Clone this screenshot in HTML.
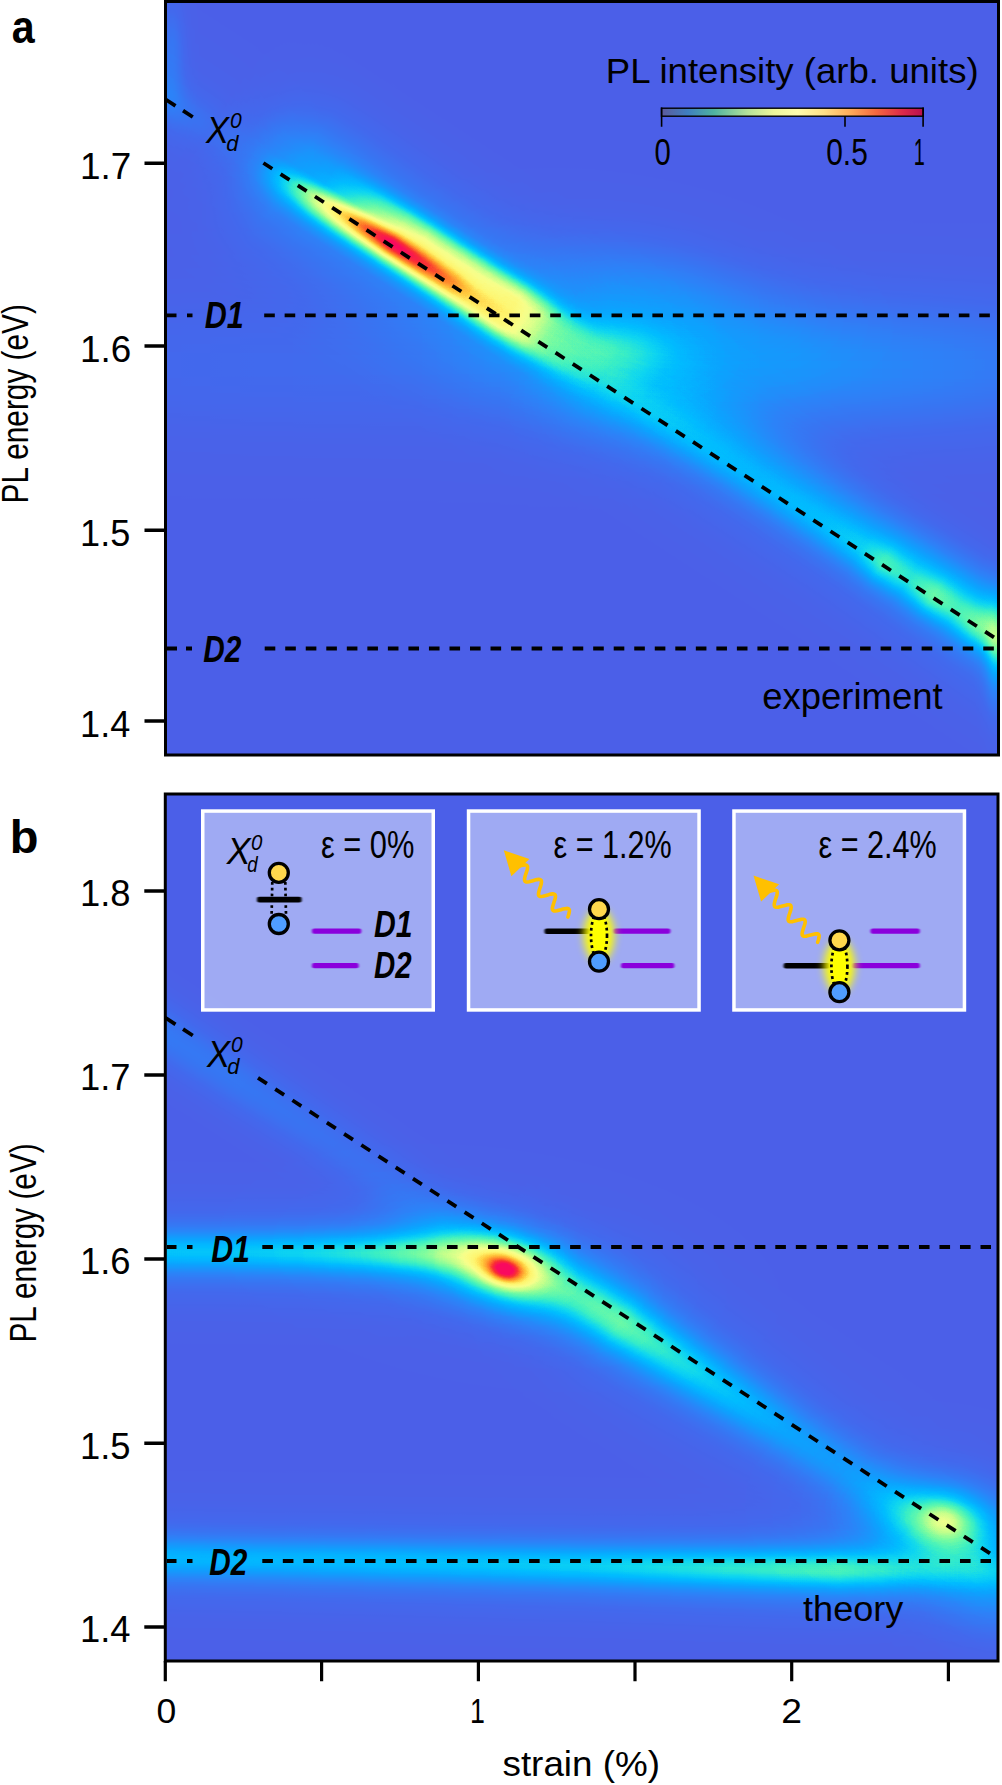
<!DOCTYPE html>
<html><head><meta charset="utf-8"><title>PL intensity vs strain</title>
<style>html,body{margin:0;padding:0;background:#fff}body{width:1002px;height:1785px;overflow:hidden}</style></head>
<body>
<svg width="1002" height="1785" viewBox="0 0 1002 1785" style="display:block;font-family:'Liberation Sans', Arial, sans-serif">
<defs>
<filter id="cm" x="0" y="0" width="100%" height="100%" filterUnits="objectBoundingBox" color-interpolation-filters="sRGB">
<feComponentTransfer><feFuncR type="table" tableValues="0.298 0.289 0.280 0.271 0.262 0.250 0.236 0.221 0.207 0.192 0.178 0.156 0.135 0.113 0.091 0.069 0.047 0.033 0.022 0.012 0.002 0.016 0.034 0.053 0.091 0.138 0.184 0.231 0.284 0.337 0.391 0.444 0.504 0.571 0.637 0.704 0.769 0.816 0.863 0.910 0.957 0.977 0.983 0.989 0.995 1.000 1.000 1.000 1.000 1.000 1.000 1.000 1.000 1.000 1.000 0.996 0.992 0.987 0.983 0.980 0.980 0.980 0.980 0.980"/><feFuncG type="table" tableValues="0.376 0.385 0.394 0.403 0.412 0.425 0.442 0.459 0.475 0.492 0.508 0.530 0.552 0.573 0.595 0.617 0.639 0.663 0.689 0.715 0.741 0.771 0.802 0.833 0.861 0.887 0.913 0.939 0.951 0.962 0.972 0.983 0.990 0.992 0.995 0.998 1.000 1.000 1.000 1.000 1.000 0.994 0.985 0.976 0.967 0.950 0.910 0.870 0.830 0.790 0.737 0.683 0.629 0.574 0.520 0.451 0.380 0.309 0.238 0.181 0.146 0.110 0.075 0.039"/><feFuncB type="table" tableValues="0.910 0.915 0.920 0.926 0.931 0.937 0.944 0.951 0.958 0.965 0.972 0.977 0.981 0.985 0.990 0.994 0.998 1.000 1.000 1.000 1.000 0.984 0.966 0.947 0.909 0.862 0.816 0.769 0.736 0.705 0.674 0.643 0.619 0.601 0.583 0.565 0.549 0.549 0.549 0.549 0.549 0.531 0.504 0.478 0.451 0.419 0.375 0.330 0.286 0.242 0.222 0.206 0.191 0.175 0.160 0.164 0.173 0.182 0.191 0.212 0.253 0.293 0.333 0.373"/></feComponentTransfer>
</filter>
<clipPath id="cpA"><rect x="165.5" y="0" width="833" height="755"/></clipPath>
<clipPath id="cpB"><rect x="165.5" y="794" width="832.5" height="867"/></clipPath>
<linearGradient id="cbar" x1="0" x2="1" y1="0" y2="0">
<stop offset="0" stop-color="#5d5a9c"/><stop offset="0.1" stop-color="#3f7fc0"/><stop offset="0.2" stop-color="#4fb3a0"/>
<stop offset="0.33" stop-color="#b5e29a"/><stop offset="0.43" stop-color="#eef79c"/><stop offset="0.52" stop-color="#fffcae"/>
<stop offset="0.62" stop-color="#ffe088"/><stop offset="0.72" stop-color="#ffac5a"/><stop offset="0.82" stop-color="#f4683f"/>
<stop offset="0.92" stop-color="#dc2a4a"/><stop offset="1" stop-color="#b8104e"/>
</linearGradient>
<radialGradient id="gg" cx="0.5" cy="0.5" r="0.5"><stop offset="0.000" stop-color="#fff" stop-opacity="1.0000"/><stop offset="0.083" stop-color="#fff" stop-opacity="0.9692"/><stop offset="0.167" stop-color="#fff" stop-opacity="0.8825"/><stop offset="0.250" stop-color="#fff" stop-opacity="0.7548"/><stop offset="0.333" stop-color="#fff" stop-opacity="0.6065"/><stop offset="0.417" stop-color="#fff" stop-opacity="0.4578"/><stop offset="0.500" stop-color="#fff" stop-opacity="0.3247"/><stop offset="0.583" stop-color="#fff" stop-opacity="0.2163"/><stop offset="0.667" stop-color="#fff" stop-opacity="0.1353"/><stop offset="0.750" stop-color="#fff" stop-opacity="0.0796"/><stop offset="0.833" stop-color="#fff" stop-opacity="0.0439"/><stop offset="0.917" stop-color="#fff" stop-opacity="0.0228"/><stop offset="1.000" stop-color="#fff" stop-opacity="0.0000"/></radialGradient>
<radialGradient id="gl" cx="0.5" cy="0.5" r="0.5"><stop offset="0.000" stop-color="#fff" stop-opacity="1.0000"/><stop offset="0.062" stop-color="#fff" stop-opacity="0.9075"/><stop offset="0.125" stop-color="#fff" stop-opacity="0.7079"/><stop offset="0.188" stop-color="#fff" stop-opacity="0.5135"/><stop offset="0.250" stop-color="#fff" stop-opacity="0.3659"/><stop offset="0.312" stop-color="#fff" stop-opacity="0.2622"/><stop offset="0.375" stop-color="#fff" stop-opacity="0.1903"/><stop offset="0.438" stop-color="#fff" stop-opacity="0.1398"/><stop offset="0.500" stop-color="#fff" stop-opacity="0.1034"/><stop offset="0.562" stop-color="#fff" stop-opacity="0.0767"/><stop offset="0.625" stop-color="#fff" stop-opacity="0.0566"/><stop offset="0.688" stop-color="#fff" stop-opacity="0.0411"/><stop offset="0.750" stop-color="#fff" stop-opacity="0.0290"/><stop offset="0.812" stop-color="#fff" stop-opacity="0.0194"/><stop offset="0.875" stop-color="#fff" stop-opacity="0.0116"/><stop offset="0.938" stop-color="#fff" stop-opacity="0.0053"/><stop offset="1.000" stop-color="#fff" stop-opacity="0.0000"/></radialGradient>
<linearGradient id="gv" x1="0" y1="0" x2="0" y2="1"><stop offset="0.000" stop-color="#fff" stop-opacity="0.0000"/><stop offset="0.042" stop-color="#fff" stop-opacity="0.0228"/><stop offset="0.083" stop-color="#fff" stop-opacity="0.0439"/><stop offset="0.125" stop-color="#fff" stop-opacity="0.0796"/><stop offset="0.167" stop-color="#fff" stop-opacity="0.1353"/><stop offset="0.208" stop-color="#fff" stop-opacity="0.2163"/><stop offset="0.250" stop-color="#fff" stop-opacity="0.3247"/><stop offset="0.292" stop-color="#fff" stop-opacity="0.4578"/><stop offset="0.333" stop-color="#fff" stop-opacity="0.6065"/><stop offset="0.375" stop-color="#fff" stop-opacity="0.7548"/><stop offset="0.417" stop-color="#fff" stop-opacity="0.8825"/><stop offset="0.458" stop-color="#fff" stop-opacity="0.9692"/><stop offset="0.500" stop-color="#fff" stop-opacity="1.0000"/><stop offset="0.542" stop-color="#fff" stop-opacity="0.9692"/><stop offset="0.583" stop-color="#fff" stop-opacity="0.8825"/><stop offset="0.625" stop-color="#fff" stop-opacity="0.7548"/><stop offset="0.667" stop-color="#fff" stop-opacity="0.6065"/><stop offset="0.708" stop-color="#fff" stop-opacity="0.4578"/><stop offset="0.750" stop-color="#fff" stop-opacity="0.3247"/><stop offset="0.792" stop-color="#fff" stop-opacity="0.2163"/><stop offset="0.833" stop-color="#fff" stop-opacity="0.1353"/><stop offset="0.875" stop-color="#fff" stop-opacity="0.0796"/><stop offset="0.917" stop-color="#fff" stop-opacity="0.0439"/><stop offset="0.958" stop-color="#fff" stop-opacity="0.0228"/><stop offset="1.000" stop-color="#fff" stop-opacity="0.0000"/></linearGradient>
<filter id="bl2" x="-50%" y="-50%" width="200%" height="200%" color-interpolation-filters="sRGB"><feGaussianBlur stdDeviation="2"/></filter>
<filter id="bl4" x="-50%" y="-50%" width="200%" height="200%" color-interpolation-filters="sRGB"><feGaussianBlur stdDeviation="4"/></filter>
<filter id="bl6" x="-50%" y="-50%" width="200%" height="200%" color-interpolation-filters="sRGB"><feGaussianBlur stdDeviation="6"/></filter>
<filter id="bl10" x="-50%" y="-50%" width="200%" height="200%" color-interpolation-filters="sRGB"><feGaussianBlur stdDeviation="10"/></filter>
<filter id="bl16" x="-50%" y="-50%" width="200%" height="200%" color-interpolation-filters="sRGB"><feGaussianBlur stdDeviation="16"/></filter>
<filter id="bl25" x="-50%" y="-50%" width="200%" height="200%" color-interpolation-filters="sRGB"><feGaussianBlur stdDeviation="25"/></filter>
<linearGradient id="ru1" gradientUnits="userSpaceOnUse" x1="100.0" y1="0" x2="1100.0" y2="0"><stop offset="0.0000" stop-color="#fff" stop-opacity="0.0500"/><stop offset="0.1500" stop-color="#fff" stop-opacity="0.0700"/><stop offset="0.3200" stop-color="#fff" stop-opacity="0.0800"/><stop offset="0.4000" stop-color="#fff" stop-opacity="0.1000"/><stop offset="0.4600" stop-color="#fff" stop-opacity="0.1500"/><stop offset="0.5120" stop-color="#fff" stop-opacity="0.2000"/><stop offset="0.5900" stop-color="#fff" stop-opacity="0.2200"/><stop offset="0.7000" stop-color="#fff" stop-opacity="0.2100"/><stop offset="0.8300" stop-color="#fff" stop-opacity="0.1600"/><stop offset="0.9100" stop-color="#fff" stop-opacity="0.1300"/><stop offset="1.0000" stop-color="#fff" stop-opacity="0.1200"/></linearGradient>
<mask id="rm1" maskUnits="userSpaceOnUse" x="100.0" y="-150.0" width="1000.0" height="300.0"><rect x="100.0" y="-150.0" width="1000.0" height="300.0" fill="url(#gv)"/></mask>
<linearGradient id="ru2" gradientUnits="userSpaceOnUse" x1="-149.1" y1="0" x2="1114.9" y2="0"><stop offset="0.0000" stop-color="#fff" stop-opacity="0.0400"/><stop offset="0.1509" stop-color="#fff" stop-opacity="0.0400"/><stop offset="0.2094" stop-color="#fff" stop-opacity="0.0200"/><stop offset="0.2453" stop-color="#fff" stop-opacity="0.0000"/><stop offset="0.4717" stop-color="#fff" stop-opacity="0.0000"/><stop offset="0.5283" stop-color="#fff" stop-opacity="0.0800"/><stop offset="0.6226" stop-color="#fff" stop-opacity="0.1200"/><stop offset="0.7642" stop-color="#fff" stop-opacity="0.1200"/><stop offset="0.9057" stop-color="#fff" stop-opacity="0.1600"/><stop offset="1.0000" stop-color="#fff" stop-opacity="0.1600"/></linearGradient>
<mask id="rm2" maskUnits="userSpaceOnUse" x="-149.1" y="-114.0" width="1264.0" height="228.0"><rect x="-149.1" y="-114.0" width="1264.0" height="228.0" fill="url(#gv)"/></mask>
<linearGradient id="ru3" gradientUnits="userSpaceOnUse" x1="566.4" y1="0" x2="1114.9" y2="0"><stop offset="0.0000" stop-color="#fff" stop-opacity="0.0000"/><stop offset="0.1739" stop-color="#fff" stop-opacity="0.0700"/><stop offset="0.3478" stop-color="#fff" stop-opacity="0.1100"/><stop offset="0.5652" stop-color="#fff" stop-opacity="0.1400"/><stop offset="0.7826" stop-color="#fff" stop-opacity="0.1500"/><stop offset="1.0000" stop-color="#fff" stop-opacity="0.1500"/></linearGradient>
<mask id="rm3" maskUnits="userSpaceOnUse" x="566.4" y="-66.0" width="548.5" height="132.0"><rect x="566.4" y="-66.0" width="548.5" height="132.0" fill="url(#gv)"/></mask>
<linearGradient id="ru4" gradientUnits="userSpaceOnUse" x1="149.1" y1="0" x2="518.7" y2="0"><stop offset="0.0000" stop-color="#fff" stop-opacity="0.0000"/><stop offset="0.0839" stop-color="#fff" stop-opacity="0.0400"/><stop offset="0.1613" stop-color="#fff" stop-opacity="0.1400"/><stop offset="0.2355" stop-color="#fff" stop-opacity="0.2600"/><stop offset="0.3194" stop-color="#fff" stop-opacity="0.3600"/><stop offset="0.3871" stop-color="#fff" stop-opacity="0.4100"/><stop offset="0.5161" stop-color="#fff" stop-opacity="0.4200"/><stop offset="0.6935" stop-color="#fff" stop-opacity="0.4000"/><stop offset="0.7677" stop-color="#fff" stop-opacity="0.3100"/><stop offset="0.8387" stop-color="#fff" stop-opacity="0.1800"/><stop offset="0.9194" stop-color="#fff" stop-opacity="0.0700"/><stop offset="1.0000" stop-color="#fff" stop-opacity="0.0000"/></linearGradient>
<linearGradient id="rv4" gradientUnits="userSpaceOnUse" x1="0" y1="-60.0" x2="0" y2="0.0"><stop offset="0.0000" stop-color="#fff" stop-opacity="0.0000"/><stop offset="0.1333" stop-color="#fff" stop-opacity="0.0600"/><stop offset="0.2333" stop-color="#fff" stop-opacity="0.2000"/><stop offset="0.3333" stop-color="#fff" stop-opacity="0.4500"/><stop offset="0.4167" stop-color="#fff" stop-opacity="0.7000"/><stop offset="0.5000" stop-color="#fff" stop-opacity="0.8800"/><stop offset="0.6000" stop-color="#fff" stop-opacity="1.0000"/><stop offset="0.7333" stop-color="#fff" stop-opacity="1.0000"/><stop offset="0.8000" stop-color="#fff" stop-opacity="0.8000"/><stop offset="0.8667" stop-color="#fff" stop-opacity="0.5000"/><stop offset="0.9333" stop-color="#fff" stop-opacity="0.2000"/><stop offset="1.0000" stop-color="#fff" stop-opacity="0.0000"/></linearGradient>
<mask id="rm4" maskUnits="userSpaceOnUse" x="149.1" y="-60.0" width="369.6" height="60.0"><rect x="149.1" y="-60.0" width="369.6" height="60.0" fill="url(#rv4)"/></mask>
<linearGradient id="ru5" gradientUnits="userSpaceOnUse" x1="101.4" y1="0" x2="518.7" y2="0"><stop offset="0.0000" stop-color="#fff" stop-opacity="0.0000"/><stop offset="0.0343" stop-color="#fff" stop-opacity="0.0200"/><stop offset="0.1143" stop-color="#fff" stop-opacity="0.1500"/><stop offset="0.1886" stop-color="#fff" stop-opacity="0.3000"/><stop offset="0.2571" stop-color="#fff" stop-opacity="0.3800"/><stop offset="0.3229" stop-color="#fff" stop-opacity="0.4100"/><stop offset="0.3971" stop-color="#fff" stop-opacity="0.4200"/><stop offset="0.5714" stop-color="#fff" stop-opacity="0.4200"/><stop offset="0.7286" stop-color="#fff" stop-opacity="0.4000"/><stop offset="0.7943" stop-color="#fff" stop-opacity="0.3100"/><stop offset="0.8571" stop-color="#fff" stop-opacity="0.1800"/><stop offset="0.9286" stop-color="#fff" stop-opacity="0.0700"/><stop offset="1.0000" stop-color="#fff" stop-opacity="0.0000"/></linearGradient>
<linearGradient id="rv5" gradientUnits="userSpaceOnUse" x1="0" y1="-16.0" x2="0" y2="36.0"><stop offset="0.0000" stop-color="#fff" stop-opacity="0.0000"/><stop offset="0.0769" stop-color="#fff" stop-opacity="0.2000"/><stop offset="0.1538" stop-color="#fff" stop-opacity="0.5000"/><stop offset="0.2308" stop-color="#fff" stop-opacity="0.8000"/><stop offset="0.3077" stop-color="#fff" stop-opacity="1.0000"/><stop offset="0.4231" stop-color="#fff" stop-opacity="1.0000"/><stop offset="0.5000" stop-color="#fff" stop-opacity="0.9000"/><stop offset="0.5769" stop-color="#fff" stop-opacity="0.7200"/><stop offset="0.6538" stop-color="#fff" stop-opacity="0.5000"/><stop offset="0.7500" stop-color="#fff" stop-opacity="0.2800"/><stop offset="0.8462" stop-color="#fff" stop-opacity="0.1200"/><stop offset="1.0000" stop-color="#fff" stop-opacity="0.0000"/></linearGradient>
<mask id="rm5" maskUnits="userSpaceOnUse" x="101.4" y="-16.0" width="417.3" height="52.0"><rect x="101.4" y="-16.0" width="417.3" height="52.0" fill="url(#rv5)"/></mask>
<linearGradient id="ru6" gradientUnits="userSpaceOnUse" x1="-77.5" y1="0" x2="637.9" y2="0"><stop offset="0.0000" stop-color="#fff" stop-opacity="0.0000"/><stop offset="0.1833" stop-color="#fff" stop-opacity="0.0000"/><stop offset="0.2333" stop-color="#fff" stop-opacity="0.0600"/><stop offset="0.2700" stop-color="#fff" stop-opacity="0.1500"/><stop offset="0.3167" stop-color="#fff" stop-opacity="0.2400"/><stop offset="0.3667" stop-color="#fff" stop-opacity="0.2500"/><stop offset="0.5000" stop-color="#fff" stop-opacity="0.2200"/><stop offset="0.6000" stop-color="#fff" stop-opacity="0.1900"/><stop offset="0.7000" stop-color="#fff" stop-opacity="0.1600"/><stop offset="0.7667" stop-color="#fff" stop-opacity="0.1100"/><stop offset="0.8333" stop-color="#fff" stop-opacity="0.0700"/><stop offset="0.9000" stop-color="#fff" stop-opacity="0.0300"/><stop offset="1.0000" stop-color="#fff" stop-opacity="0.0000"/></linearGradient>
<linearGradient id="rv6" gradientUnits="userSpaceOnUse" x1="0" y1="-140.0" x2="0" y2="140.0"><stop offset="0.0000" stop-color="#fff" stop-opacity="0.0000"/><stop offset="0.0714" stop-color="#fff" stop-opacity="0.0400"/><stop offset="0.1429" stop-color="#fff" stop-opacity="0.1200"/><stop offset="0.2143" stop-color="#fff" stop-opacity="0.2800"/><stop offset="0.2679" stop-color="#fff" stop-opacity="0.4500"/><stop offset="0.3214" stop-color="#fff" stop-opacity="0.6600"/><stop offset="0.3750" stop-color="#fff" stop-opacity="0.8600"/><stop offset="0.4286" stop-color="#fff" stop-opacity="0.9700"/><stop offset="0.4714" stop-color="#fff" stop-opacity="1.0000"/><stop offset="0.5179" stop-color="#fff" stop-opacity="0.9700"/><stop offset="0.5536" stop-color="#fff" stop-opacity="0.8800"/><stop offset="0.5893" stop-color="#fff" stop-opacity="0.7600"/><stop offset="0.6250" stop-color="#fff" stop-opacity="0.6200"/><stop offset="0.6786" stop-color="#fff" stop-opacity="0.4500"/><stop offset="0.7500" stop-color="#fff" stop-opacity="0.2800"/><stop offset="0.8393" stop-color="#fff" stop-opacity="0.1300"/><stop offset="0.9286" stop-color="#fff" stop-opacity="0.0400"/><stop offset="1.0000" stop-color="#fff" stop-opacity="0.0000"/></linearGradient>
<mask id="rm6" maskUnits="userSpaceOnUse" x="-77.5" y="-140.0" width="715.4" height="280.0"><rect x="-77.5" y="-140.0" width="715.4" height="280.0" fill="url(#rv6)"/></mask>
<linearGradient id="ru7" gradientUnits="userSpaceOnUse" x1="149.1" y1="0" x2="423.3" y2="0"><stop offset="0.0000" stop-color="#fff" stop-opacity="0.0000"/><stop offset="0.1130" stop-color="#fff" stop-opacity="0.0500"/><stop offset="0.2174" stop-color="#fff" stop-opacity="0.1400"/><stop offset="0.3174" stop-color="#fff" stop-opacity="0.2600"/><stop offset="0.3913" stop-color="#fff" stop-opacity="0.3400"/><stop offset="0.4304" stop-color="#fff" stop-opacity="0.3800"/><stop offset="0.4783" stop-color="#fff" stop-opacity="0.3600"/><stop offset="0.5652" stop-color="#fff" stop-opacity="0.3100"/><stop offset="0.6739" stop-color="#fff" stop-opacity="0.2300"/><stop offset="0.7826" stop-color="#fff" stop-opacity="0.1200"/><stop offset="0.9130" stop-color="#fff" stop-opacity="0.0400"/><stop offset="1.0000" stop-color="#fff" stop-opacity="0.0000"/></linearGradient>
<mask id="rm7" maskUnits="userSpaceOnUse" x="149.1" y="-25.5" width="274.3" height="51.0"><rect x="149.1" y="-25.5" width="274.3" height="51.0" fill="url(#gv)"/></mask>
<linearGradient id="ru8" gradientUnits="userSpaceOnUse" x1="-149.1" y1="0" x2="1114.9" y2="0"><stop offset="0.0000" stop-color="#fff" stop-opacity="0.0500"/><stop offset="0.1179" stop-color="#fff" stop-opacity="0.0800"/><stop offset="0.1509" stop-color="#fff" stop-opacity="0.0600"/><stop offset="0.1887" stop-color="#fff" stop-opacity="0.0200"/><stop offset="0.2094" stop-color="#fff" stop-opacity="0.0000"/><stop offset="0.4717" stop-color="#fff" stop-opacity="0.0000"/><stop offset="0.5094" stop-color="#fff" stop-opacity="0.0300"/><stop offset="0.5472" stop-color="#fff" stop-opacity="0.0600"/><stop offset="0.5755" stop-color="#fff" stop-opacity="0.0900"/><stop offset="0.6226" stop-color="#fff" stop-opacity="0.1100"/><stop offset="0.7358" stop-color="#fff" stop-opacity="0.1300"/><stop offset="0.7736" stop-color="#fff" stop-opacity="0.1600"/><stop offset="0.7943" stop-color="#fff" stop-opacity="0.2400"/><stop offset="0.8189" stop-color="#fff" stop-opacity="0.1900"/><stop offset="0.8415" stop-color="#fff" stop-opacity="0.2600"/><stop offset="0.8632" stop-color="#fff" stop-opacity="0.2100"/><stop offset="0.8849" stop-color="#fff" stop-opacity="0.2600"/><stop offset="0.9057" stop-color="#fff" stop-opacity="0.2100"/><stop offset="1.0000" stop-color="#fff" stop-opacity="0.2000"/></linearGradient>
<mask id="rm8" maskUnits="userSpaceOnUse" x="-149.1" y="-45.0" width="1264.0" height="90.0"><rect x="-149.1" y="-45.0" width="1264.0" height="90.0" fill="url(#gv)"/></mask>
<linearGradient id="ru9" gradientUnits="userSpaceOnUse" x1="60.0" y1="0" x2="580.0" y2="0"><stop offset="0.0000" stop-color="#fff" stop-opacity="0.1980"/><stop offset="0.2019" stop-color="#fff" stop-opacity="0.1980"/><stop offset="0.3654" stop-color="#fff" stop-opacity="0.2040"/><stop offset="0.4808" stop-color="#fff" stop-opacity="0.2160"/><stop offset="0.5577" stop-color="#fff" stop-opacity="0.2280"/><stop offset="0.6538" stop-color="#fff" stop-opacity="0.2310"/><stop offset="0.7308" stop-color="#fff" stop-opacity="0.2040"/><stop offset="0.7885" stop-color="#fff" stop-opacity="0.1560"/><stop offset="0.8462" stop-color="#fff" stop-opacity="0.0960"/><stop offset="0.9231" stop-color="#fff" stop-opacity="0.0360"/><stop offset="1.0000" stop-color="#fff" stop-opacity="0.0000"/></linearGradient>
<mask id="rm9" maskUnits="userSpaceOnUse" x="60.0" y="-42.0" width="520.0" height="84.0"><rect x="60.0" y="-42.0" width="520.0" height="84.0" fill="url(#gv)"/></mask>
<linearGradient id="ru10" gradientUnits="userSpaceOnUse" x1="60.0" y1="0" x2="580.0" y2="0"><stop offset="0.0000" stop-color="#fff" stop-opacity="0.1320"/><stop offset="0.2019" stop-color="#fff" stop-opacity="0.1320"/><stop offset="0.3654" stop-color="#fff" stop-opacity="0.1360"/><stop offset="0.4808" stop-color="#fff" stop-opacity="0.1440"/><stop offset="0.5577" stop-color="#fff" stop-opacity="0.1520"/><stop offset="0.6538" stop-color="#fff" stop-opacity="0.1540"/><stop offset="0.7308" stop-color="#fff" stop-opacity="0.1360"/><stop offset="0.7885" stop-color="#fff" stop-opacity="0.1040"/><stop offset="0.8462" stop-color="#fff" stop-opacity="0.0640"/><stop offset="0.9231" stop-color="#fff" stop-opacity="0.0240"/><stop offset="1.0000" stop-color="#fff" stop-opacity="0.0000"/></linearGradient>
<mask id="rm10" maskUnits="userSpaceOnUse" x="60.0" y="-96.0" width="520.0" height="192.0"><rect x="60.0" y="-96.0" width="520.0" height="192.0" fill="url(#gv)"/></mask>
<linearGradient id="ru11" gradientUnits="userSpaceOnUse" x1="375.6" y1="0" x2="1114.9" y2="0"><stop offset="0.0000" stop-color="#fff" stop-opacity="0.0000"/><stop offset="0.0645" stop-color="#fff" stop-opacity="0.0240"/><stop offset="0.1290" stop-color="#fff" stop-opacity="0.1080"/><stop offset="0.1935" stop-color="#fff" stop-opacity="0.2160"/><stop offset="0.2339" stop-color="#fff" stop-opacity="0.2640"/><stop offset="0.2742" stop-color="#fff" stop-opacity="0.2580"/><stop offset="0.3548" stop-color="#fff" stop-opacity="0.2220"/><stop offset="0.4355" stop-color="#fff" stop-opacity="0.1860"/><stop offset="0.5161" stop-color="#fff" stop-opacity="0.1500"/><stop offset="0.5968" stop-color="#fff" stop-opacity="0.1260"/><stop offset="0.6452" stop-color="#fff" stop-opacity="0.1080"/><stop offset="0.7097" stop-color="#fff" stop-opacity="0.0600"/><stop offset="0.8387" stop-color="#fff" stop-opacity="0.0480"/><stop offset="1.0000" stop-color="#fff" stop-opacity="0.0360"/></linearGradient>
<mask id="rm11" maskUnits="userSpaceOnUse" x="375.6" y="-57.0" width="739.3" height="114.0"><rect x="375.6" y="-57.0" width="739.3" height="114.0" fill="url(#gv)"/></mask>
<linearGradient id="ru12" gradientUnits="userSpaceOnUse" x1="375.6" y1="0" x2="1114.9" y2="0"><stop offset="0.0000" stop-color="#fff" stop-opacity="0.0000"/><stop offset="0.0645" stop-color="#fff" stop-opacity="0.0160"/><stop offset="0.1290" stop-color="#fff" stop-opacity="0.0720"/><stop offset="0.1935" stop-color="#fff" stop-opacity="0.1440"/><stop offset="0.2339" stop-color="#fff" stop-opacity="0.1760"/><stop offset="0.2742" stop-color="#fff" stop-opacity="0.1720"/><stop offset="0.3548" stop-color="#fff" stop-opacity="0.1480"/><stop offset="0.4355" stop-color="#fff" stop-opacity="0.1240"/><stop offset="0.5161" stop-color="#fff" stop-opacity="0.1000"/><stop offset="0.5968" stop-color="#fff" stop-opacity="0.0840"/><stop offset="0.6452" stop-color="#fff" stop-opacity="0.0720"/><stop offset="0.7097" stop-color="#fff" stop-opacity="0.0400"/><stop offset="0.8387" stop-color="#fff" stop-opacity="0.0320"/><stop offset="1.0000" stop-color="#fff" stop-opacity="0.0240"/></linearGradient>
<mask id="rm12" maskUnits="userSpaceOnUse" x="375.6" y="-120.0" width="739.3" height="240.0"><rect x="375.6" y="-120.0" width="739.3" height="240.0" fill="url(#gv)"/></mask>
<linearGradient id="ru13" gradientUnits="userSpaceOnUse" x1="-125.2" y1="0" x2="399.5" y2="0"><stop offset="0.0000" stop-color="#fff" stop-opacity="0.1200"/><stop offset="0.2386" stop-color="#fff" stop-opacity="0.1300"/><stop offset="0.4318" stop-color="#fff" stop-opacity="0.1200"/><stop offset="0.6136" stop-color="#fff" stop-opacity="0.1000"/><stop offset="0.7727" stop-color="#fff" stop-opacity="0.0800"/><stop offset="0.8864" stop-color="#fff" stop-opacity="0.0400"/><stop offset="1.0000" stop-color="#fff" stop-opacity="0.0000"/></linearGradient>
<mask id="rm13" maskUnits="userSpaceOnUse" x="-125.2" y="-60.0" width="524.7" height="120.0"><rect x="-125.2" y="-60.0" width="524.7" height="120.0" fill="url(#gv)"/></mask>
<linearGradient id="ru14" gradientUnits="userSpaceOnUse" x1="-105.0" y1="0" x2="935.0" y2="0"><stop offset="0.0000" stop-color="#fff" stop-opacity="0.1800"/><stop offset="0.1010" stop-color="#fff" stop-opacity="0.1800"/><stop offset="0.2308" stop-color="#fff" stop-opacity="0.1860"/><stop offset="0.3750" stop-color="#fff" stop-opacity="0.1980"/><stop offset="0.5192" stop-color="#fff" stop-opacity="0.2160"/><stop offset="0.6154" stop-color="#fff" stop-opacity="0.2400"/><stop offset="0.6923" stop-color="#fff" stop-opacity="0.2580"/><stop offset="0.7500" stop-color="#fff" stop-opacity="0.2580"/><stop offset="0.7885" stop-color="#fff" stop-opacity="0.2220"/><stop offset="0.8269" stop-color="#fff" stop-opacity="0.1620"/><stop offset="0.8654" stop-color="#fff" stop-opacity="0.1140"/><stop offset="0.9038" stop-color="#fff" stop-opacity="0.0900"/><stop offset="1.0000" stop-color="#fff" stop-opacity="0.0720"/></linearGradient>
<mask id="rm14" maskUnits="userSpaceOnUse" x="-105.0" y="-42.0" width="1040.0" height="84.0"><rect x="-105.0" y="-42.0" width="1040.0" height="84.0" fill="url(#gv)"/></mask>
<linearGradient id="ru15" gradientUnits="userSpaceOnUse" x1="-105.0" y1="0" x2="935.0" y2="0"><stop offset="0.0000" stop-color="#fff" stop-opacity="0.1200"/><stop offset="0.1010" stop-color="#fff" stop-opacity="0.1200"/><stop offset="0.2308" stop-color="#fff" stop-opacity="0.1240"/><stop offset="0.3750" stop-color="#fff" stop-opacity="0.1320"/><stop offset="0.5192" stop-color="#fff" stop-opacity="0.1440"/><stop offset="0.6154" stop-color="#fff" stop-opacity="0.1600"/><stop offset="0.6923" stop-color="#fff" stop-opacity="0.1720"/><stop offset="0.7500" stop-color="#fff" stop-opacity="0.1720"/><stop offset="0.7885" stop-color="#fff" stop-opacity="0.1480"/><stop offset="0.8269" stop-color="#fff" stop-opacity="0.1080"/><stop offset="0.8654" stop-color="#fff" stop-opacity="0.0760"/><stop offset="0.9038" stop-color="#fff" stop-opacity="0.0600"/><stop offset="1.0000" stop-color="#fff" stop-opacity="0.0480"/></linearGradient>
<mask id="rm15" maskUnits="userSpaceOnUse" x="-105.0" y="-96.0" width="1040.0" height="192.0"><rect x="-105.0" y="-96.0" width="1040.0" height="192.0" fill="url(#gv)"/></mask><filter id="bl1" x="-20%" y="-200%" width="140%" height="500%"><feGaussianBlur stdDeviation="1.1 0.5"/></filter>
</defs>
<rect width="1002" height="1785" fill="#fff"/>
<!-- panel a heat -->
<g clip-path="url(#cpA)"><g filter="url(#cm)"><g style="isolation:isolate"><rect x="150" y="-10" width="870" height="780" fill="#000"/>
<ellipse cx="510.0" cy="308.0" rx="66.0" ry="57.0" fill="url(#gg)" opacity="0.040" style="mix-blend-mode:plus-lighter"/>
<ellipse cx="645.0" cy="285.0" rx="255.0" ry="108.0" fill="url(#gg)" opacity="0.130" transform="rotate(12.00 645.0 285.0)" style="mix-blend-mode:plus-lighter"/>
<ellipse cx="622.0" cy="348.0" rx="120.0" ry="54.0" fill="url(#gg)" opacity="0.100" transform="rotate(6.00 622.0 348.0)" style="mix-blend-mode:plus-lighter"/>
<ellipse cx="172.0" cy="50.0" rx="27.0" ry="114.0" fill="url(#gg)" opacity="0.100" style="mix-blend-mode:plus-lighter"/>
<ellipse cx="995.0" cy="660.0" rx="21.0" ry="114.0" fill="url(#gg)" opacity="0.120" style="mix-blend-mode:plus-lighter"/>
<g transform="translate(0.0,365.0) rotate(0.000)" style="mix-blend-mode:plus-lighter"><rect x="100.0" y="-150.0" width="1000.0" height="300.0" fill="url(#ru1)" mask="url(#rm1)"/></g>
<g transform="translate(165.0,99.0) rotate(33.004)" style="mix-blend-mode:plus-lighter"><rect x="-149.1" y="-114.0" width="1264.0" height="228.0" fill="url(#ru2)" mask="url(#rm2)"/></g>
<g transform="translate(178.1,78.9) rotate(33.004)" style="mix-blend-mode:plus-lighter"><rect x="566.4" y="-66.0" width="548.5" height="132.0" fill="url(#ru3)" mask="url(#rm3)"/></g>
<g transform="translate(165.0,99.0) rotate(33.004)" style="mix-blend-mode:plus-lighter"><rect x="149.1" y="-60.0" width="369.6" height="60.0" fill="url(#ru4)" mask="url(#rm4)"/></g>
<g transform="translate(165.0,99.0) rotate(33.004)" style="mix-blend-mode:plus-lighter"><rect x="101.4" y="-16.0" width="417.3" height="52.0" fill="url(#ru5)" mask="url(#rm5)"/></g>
<g transform="translate(165.0,99.0) rotate(33.004)" style="mix-blend-mode:plus-lighter"><rect x="-77.5" y="-140.0" width="715.4" height="280.0" fill="url(#ru6)" mask="url(#rm6)"/></g>
<g transform="translate(166.6,96.5) rotate(33.004)" style="mix-blend-mode:plus-lighter"><rect x="149.1" y="-25.5" width="274.3" height="51.0" fill="url(#ru7)" mask="url(#rm7)"/></g>
<g transform="translate(165.0,99.0) rotate(33.004)" style="mix-blend-mode:plus-lighter"><rect x="-149.1" y="-45.0" width="1264.0" height="90.0" fill="url(#ru8)" mask="url(#rm8)"/></g></g></g></g>
<!-- panel b heat -->
<g clip-path="url(#cpB)"><g filter="url(#cm)"><g style="isolation:isolate"><rect x="150" y="780" width="870" height="900" fill="#000"/>
<g transform="translate(0.0,1250.0) rotate(0.500)" style="mix-blend-mode:plus-lighter"><rect x="60.0" y="-42.0" width="520.0" height="84.0" fill="url(#ru9)" mask="url(#rm9)"/></g>
<g transform="translate(0.0,1251.0) rotate(0.500)" style="mix-blend-mode:plus-lighter"><rect x="60.0" y="-96.0" width="520.0" height="192.0" fill="url(#ru10)" mask="url(#rm10)"/></g>
<ellipse cx="505.0" cy="1270.0" rx="33.0" ry="22.5" fill="url(#gg)" opacity="0.240" transform="rotate(14.00 505.0 1270.0)" style="mix-blend-mode:plus-lighter"/>
<ellipse cx="506.0" cy="1270.0" rx="75.0" ry="45.0" fill="url(#gg)" opacity="0.300" transform="rotate(14.00 506.0 1270.0)" style="mix-blend-mode:plus-lighter"/>
<ellipse cx="507.0" cy="1272.0" rx="165.0" ry="87.0" fill="url(#gg)" opacity="0.330" transform="rotate(20.00 507.0 1272.0)" style="mix-blend-mode:plus-lighter"/>
<ellipse cx="500.0" cy="1268.0" rx="285.0" ry="120.0" fill="url(#gg)" opacity="0.070" transform="rotate(8.00 500.0 1268.0)" style="mix-blend-mode:plus-lighter"/>
<g transform="translate(160.6,1024.2) rotate(33.004)" style="mix-blend-mode:plus-lighter"><rect x="375.6" y="-57.0" width="739.3" height="114.0" fill="url(#ru11)" mask="url(#rm11)"/></g>
<g transform="translate(160.6,1024.2) rotate(33.004)" style="mix-blend-mode:plus-lighter"><rect x="375.6" y="-120.0" width="739.3" height="240.0" fill="url(#ru12)" mask="url(#rm12)"/></g>
<g transform="translate(157.4,1029.2) rotate(33.004)" style="mix-blend-mode:plus-lighter"><rect x="-125.2" y="-60.0" width="524.7" height="120.0" fill="url(#ru13)" mask="url(#rm13)"/></g>
<ellipse cx="946.0" cy="1520.0" rx="42.0" ry="33.0" fill="url(#gg)" opacity="0.100" transform="rotate(15.00 946.0 1520.0)" style="mix-blend-mode:plus-lighter"/>
<ellipse cx="944.0" cy="1520.0" rx="120.0" ry="72.0" fill="url(#gg)" opacity="0.300" transform="rotate(8.00 944.0 1520.0)" style="mix-blend-mode:plus-lighter"/>
<ellipse cx="940.0" cy="1521.0" rx="198.0" ry="120.0" fill="url(#gg)" opacity="0.110" transform="rotate(8.00 940.0 1521.0)" style="mix-blend-mode:plus-lighter"/>
<g transform="translate(165.0,1558.0) rotate(1.000)" style="mix-blend-mode:plus-lighter"><rect x="-105.0" y="-42.0" width="1040.0" height="84.0" fill="url(#ru14)" mask="url(#rm14)"/></g>
<g transform="translate(165.0,1560.0) rotate(1.100)" style="mix-blend-mode:plus-lighter"><rect x="-105.0" y="-96.0" width="1040.0" height="192.0" fill="url(#ru15)" mask="url(#rm15)"/></g>
<ellipse cx="985.0" cy="1600.0" rx="126.0" ry="90.0" fill="url(#gg)" opacity="0.100" transform="rotate(20.00 985.0 1600.0)" style="mix-blend-mode:plus-lighter"/></g></g></g>
<!-- dashed lines a -->
<g stroke="#000" stroke-width="3.8" fill="none" stroke-dasharray="10.6 10.1">
<path d="M165 99 L193.5 117.5" stroke-dasharray="12.5 9 11.6 50"/>
<path d="M263.4 163 L994 637.4" stroke-dasharray="10.6 9.89"/>
<path d="M167 315.3H176.5M187 315.3H192.5" stroke-dasharray="none"/>
<path d="M264.2 315.3H990" stroke-dasharray="10.6 9.83"/>
<path d="M167 648.5H177M186 648.5H192" stroke-dasharray="none"/>
<path d="M264.7 648.5H994" stroke-dasharray="10.6 9.93"/>
<path d="M165 1017.5 L193.5 1036" stroke-dasharray="12.5 9 11.6 50"/>
<path d="M258 1077.9 L990 1553.3" stroke-dasharray="10.6 9.93"/>
<path d="M167 1247H176.5M187 1247H192.5" stroke-dasharray="none"/>
<path d="M262.3 1247H991" stroke-dasharray="10.6 9.92"/>
<path d="M167 1561H176.5M187 1561H192.5" stroke-dasharray="none"/>
<path d="M262.3 1561H991" stroke-dasharray="10.6 9.92"/>
</g>
<!-- frames -->
<g fill="none" stroke="#000" stroke-width="3">
<rect x="165.5" y="1.5" width="833" height="753.5"/>
<rect x="165.3" y="794" width="832.7" height="867"/>
</g>
<!-- ticks -->
<g stroke="#000" stroke-width="3.4">
<path d="M144.5 163.2H165M144.5 346H165M144.5 530.3H165M144.5 721H165"/>
<path d="M144.3 891H165M144.3 1075H165M144.3 1259H165M144.3 1443.3H165M144.3 1627H165"/>
<path d="M165.3 1661V1681.3M321.6 1661V1681.3M478.4 1661V1681.3M635 1661V1681.3M791.7 1661V1681.3M948.4 1661V1681.3" stroke-width="3.2"/>
</g>
<!-- colorbar -->
<rect x="661.5" y="108.2" width="261.7" height="8" fill="url(#cbar)" stroke="#000" stroke-width="1.4"/>
<path d="M661.6 107.5V126.7M845 116V126.7M923.1 107.5V126.7" stroke="#000" stroke-width="1.6" fill="none"/>
<rect x="202.75" y="811.05" width="230.5" height="198.9" fill="#fff" fill-opacity="0.47" stroke="#fff" stroke-width="3.5"/>
<rect x="468.55" y="811.05" width="230.5" height="198.9" fill="#fff" fill-opacity="0.47" stroke="#fff" stroke-width="3.5"/>
<rect x="733.95" y="811.05" width="230.5" height="198.9" fill="#fff" fill-opacity="0.47" stroke="#fff" stroke-width="3.5"/>
<rect x="257.0" y="896.80" width="44.6" height="5.6" rx="2" fill="#000" filter="url(#bl1)"/>
<path d="M272.3 882 L271.6 915 M285.3 882 L286 915" stroke="#000" stroke-width="2.7" stroke-dasharray="2.7 3.1" fill="none"/>
<circle cx="278.8" cy="872.8" r="9.5" fill="#ffd84d" stroke="#000" stroke-width="3.3"/>
<circle cx="278.8" cy="924" r="9.5" fill="#4f9dff" stroke="#000" stroke-width="3.3"/>
<rect x="312.0" y="928.60" width="49.3" height="5.2" rx="2" fill="#8a00dc" filter="url(#bl1)"/>
<rect x="312.0" y="963.10" width="46.7" height="5.2" rx="2" fill="#8a00dc" filter="url(#bl1)"/>
<rect x="613.3" y="928.60" width="57.1" height="5.2" rx="2" fill="#8a00dc" filter="url(#bl1)"/>
<rect x="621.0" y="963.10" width="53.3" height="5.2" rx="2" fill="#8a00dc" filter="url(#bl1)"/>
<rect x="544.5" y="928.40" width="45.5" height="5.6" rx="2" fill="#000" filter="url(#bl1)"/><ellipse cx="599" cy="935.4000000000001" rx="15" ry="27" fill="#ffff00" filter="url(#bl4)"/><ellipse cx="599" cy="935.4000000000001" rx="8" ry="24" fill="#ffff00" stroke="#000" stroke-width="2.7" stroke-dasharray="2.7 3.1"/><circle cx="599" cy="909.2" r="9.5" fill="#ffd84d" stroke="#000" stroke-width="3.3"/><circle cx="599" cy="961.6" r="9.5" fill="#4f9dff" stroke="#000" stroke-width="3.3"/>
<path d="M567.9 917.0 L568.6 914.9 L569.1 913.0 L569.4 911.3 L569.4 910.0 L568.9 909.1 L568.0 908.6 L566.6 908.4 L564.9 908.7 L563.0 909.1 L560.9 909.7 L558.8 910.3 L556.9 910.8 L555.2 911.0 L553.9 910.9 L553.0 910.4 L552.5 909.5 L552.4 908.1 L552.7 906.5 L553.3 904.5 L553.9 902.5 L554.6 900.4 L555.2 898.5 L555.5 896.8 L555.4 895.5 L554.9 894.5 L554.0 894.0 L552.7 893.9 L551.0 894.1 L549.0 894.6 L547.0 895.2 L544.9 895.8 L542.9 896.3 L541.3 896.5 L539.9 896.4 L539.0 895.9 L538.5 894.9 L538.5 893.6 L538.8 891.9 L539.3 890.0 L540.0 887.9 L540.7 885.9 L541.2 884.0 L541.5 882.3 L541.4 881.0 L541.0 880.0 L540.0 879.5 L538.7 879.4 L537.0 879.6 L535.1 880.1 L533.0 880.7 L530.9 881.3 L529.0 881.8 L527.3 882.0 L526.0 881.9 L525.0 881.4 L524.6 880.4 L524.5 879.1 L524.8 877.4 L525.3 875.5 L526.0 873.4 L526.7 871.4 L527.3 869.4 L527.5 867.8 L527.5 866.4 L527.0 865.5 L526.1 865.0 L524.8 864.9 L523.1 865.1 L521.1 865.6 L519.0 866.2" stroke="#ffc000" stroke-width="3.6" fill="none" stroke-linecap="round" stroke-linejoin="round"/><path d="M503.8 850.3 L529.4 858.9 L511.4 876.3Z" fill="#ffc000"/>
<rect x="870.5" y="928.60" width="49.3" height="5.2" rx="2" fill="#8a00dc" filter="url(#bl1)"/>
<rect x="852.3" y="963.10" width="67.5" height="5.2" rx="2" fill="#8a00dc" filter="url(#bl1)"/>
<rect x="783.6" y="962.90" width="46.4" height="5.6" rx="2" fill="#000" filter="url(#bl1)"/><ellipse cx="839.4" cy="966.25" rx="15" ry="27" fill="#ffff00" filter="url(#bl4)"/><ellipse cx="839.4" cy="966.25" rx="8" ry="24" fill="#ffff00" stroke="#000" stroke-width="2.7" stroke-dasharray="2.7 3.1"/><circle cx="839.4" cy="940.3" r="9.5" fill="#ffd84d" stroke="#000" stroke-width="3.3"/><circle cx="839.4" cy="992.2" r="9.5" fill="#4f9dff" stroke="#000" stroke-width="3.3"/>
<path d="M817.6 942.3 L818.3 940.2 L818.8 938.3 L819.1 936.6 L819.1 935.3 L818.6 934.4 L817.7 933.9 L816.3 933.7 L814.6 934.0 L812.7 934.4 L810.6 935.0 L808.5 935.6 L806.6 936.1 L804.9 936.3 L803.6 936.2 L802.7 935.7 L802.2 934.8 L802.1 933.4 L802.4 931.8 L803.0 929.8 L803.6 927.8 L804.3 925.7 L804.9 923.8 L805.2 922.1 L805.1 920.8 L804.6 919.8 L803.7 919.3 L802.4 919.2 L800.7 919.4 L798.7 919.9 L796.7 920.5 L794.6 921.1 L792.6 921.6 L791.0 921.8 L789.6 921.7 L788.7 921.2 L788.2 920.2 L788.2 918.9 L788.5 917.2 L789.0 915.3 L789.7 913.2 L790.4 911.2 L790.9 909.3 L791.2 907.6 L791.1 906.3 L790.7 905.3 L789.7 904.8 L788.4 904.7 L786.7 904.9 L784.8 905.4 L782.7 906.0 L780.6 906.6 L778.7 907.1 L777.0 907.3 L775.7 907.2 L774.7 906.7 L774.3 905.7 L774.2 904.4 L774.5 902.7 L775.0 900.8 L775.7 898.7 L776.4 896.7 L777.0 894.7 L777.2 893.1 L777.2 891.7 L776.7 890.8 L775.8 890.3 L774.5 890.2 L772.8 890.4 L770.8 890.9 L768.7 891.5" stroke="#ffc000" stroke-width="3.6" fill="none" stroke-linecap="round" stroke-linejoin="round"/><path d="M753.5 875.6 L779.1 884.2 L761.1 901.6Z" fill="#ffc000"/>
<!-- text -->
<text transform="translate(11.70,43.20) scale(0.8960,1)" font-size="46" font-weight="bold">a</text>
<text transform="translate(9.63,852.60) scale(1.0217,1)" font-size="46" font-weight="bold">b</text>
<text transform="translate(80.05,179.10) scale(0.9830,1)" font-size="37.5">1.7</text>
<text transform="translate(80.05,361.90) scale(0.9830,1)" font-size="37.5">1.6</text>
<text transform="translate(80.11,546.20) scale(0.9625,1)" font-size="37.5">1.5</text>
<text transform="translate(80.11,736.90) scale(0.9625,1)" font-size="37.5">1.4</text>
<text transform="translate(80.05,906.20) scale(0.9830,1)" font-size="37">1.8</text>
<text transform="translate(80.05,1090.20) scale(0.9830,1)" font-size="37">1.7</text>
<text transform="translate(80.05,1274.20) scale(0.9830,1)" font-size="37">1.6</text>
<text transform="translate(80.05,1458.50) scale(0.9830,1)" font-size="37">1.5</text>
<text transform="translate(80.05,1642.20) scale(0.9830,1)" font-size="37">1.4</text>
<text transform="translate(27.70,503.42) rotate(-90) scale(0.8058,1)" font-size="37">PL energy (eV)</text>
<text transform="translate(36.00,1342.62) rotate(-90) scale(0.8062,1)" font-size="37">PL energy (eV)</text>
<text transform="translate(605.86,83.30) scale(1.0455,1)" font-size="35">PL intensity (arb. units)</text>
<text transform="translate(654.52,165.40) scale(0.7833,1)" font-size="37.4">0</text>
<text transform="translate(826.20,165.40) scale(0.8000,1)" font-size="37.4">0.5</text>
<text transform="translate(913.81,165.40) scale(0.5312,1)" font-size="37.4">1</text>
<text transform="translate(762.27,709.20) scale(1.0125,1)" font-size="36">experiment</text>
<text transform="translate(803.10,1620.90) scale(1.0020,1)" font-size="36">theory</text>
<text transform="translate(156.60,1722.50) scale(1.0000,1)" font-size="35.5">0</text>
<text transform="translate(470.04,1722.50) scale(0.7533,1)" font-size="35.5">1</text>
<text transform="translate(781.30,1722.50) scale(1.0500,1)" font-size="35.5">2</text>
<text transform="translate(502.48,1775.80) scale(1.0232,1)" font-size="36">strain (%)</text>
<text transform="translate(204.68,327.90) scale(0.8250,1)" font-size="37" font-weight="bold" font-style="italic">D1</text>
<text transform="translate(203.20,662.00) scale(0.8043,1)" font-size="37" font-weight="bold" font-style="italic">D2</text>
<text transform="translate(211.18,1262.00) scale(0.8182,1)" font-size="37" font-weight="bold" font-style="italic">D1</text>
<text transform="translate(209.20,1575.00) scale(0.8043,1)" font-size="37" font-weight="bold" font-style="italic">D2</text>
<text transform="translate(373.88,937.20) scale(0.8159,1)" font-size="37" font-weight="bold" font-style="italic">D1</text>
<text transform="translate(373.90,978.40) scale(0.7957,1)" font-size="37" font-weight="bold" font-style="italic">D2</text>
<text transform="translate(321.00,858.00) scale(0.8009,1)" font-size="38.5">ε = 0%</text>
<text transform="translate(553.61,858.00) scale(0.7945,1)" font-size="38.5">ε = 1.2%</text>
<text transform="translate(818.61,858.00) scale(0.7945,1)" font-size="38.5">ε = 2.4%</text>
<text transform="translate(206.10,143.40) scale(0.9154,1)" font-size="37.5" font-style="italic">X</text>
<text transform="translate(230.06,128.40) scale(0.9364,1)" font-size="22.5" font-style="italic">0</text>
<text transform="translate(226.33,150.80) scale(0.9750,1)" font-size="22.5" font-style="italic">d</text>
<text transform="translate(226.80,864.40) scale(0.9500,1)" font-size="37.5" font-style="italic">X</text>
<text transform="translate(250.89,850.00) scale(0.9091,1)" font-size="22.5" font-style="italic">0</text>
<text transform="translate(247.17,871.60) scale(0.8333,1)" font-size="22.5" font-style="italic">d</text>
<text transform="translate(207.00,1066.50) scale(0.9231,1)" font-size="37.5" font-style="italic">X</text>
<text transform="translate(231.06,1051.50) scale(0.9364,1)" font-size="22.5" font-style="italic">0</text>
<text transform="translate(227.33,1074.00) scale(0.9750,1)" font-size="22.5" font-style="italic">d</text>
</svg>
</body></html>
